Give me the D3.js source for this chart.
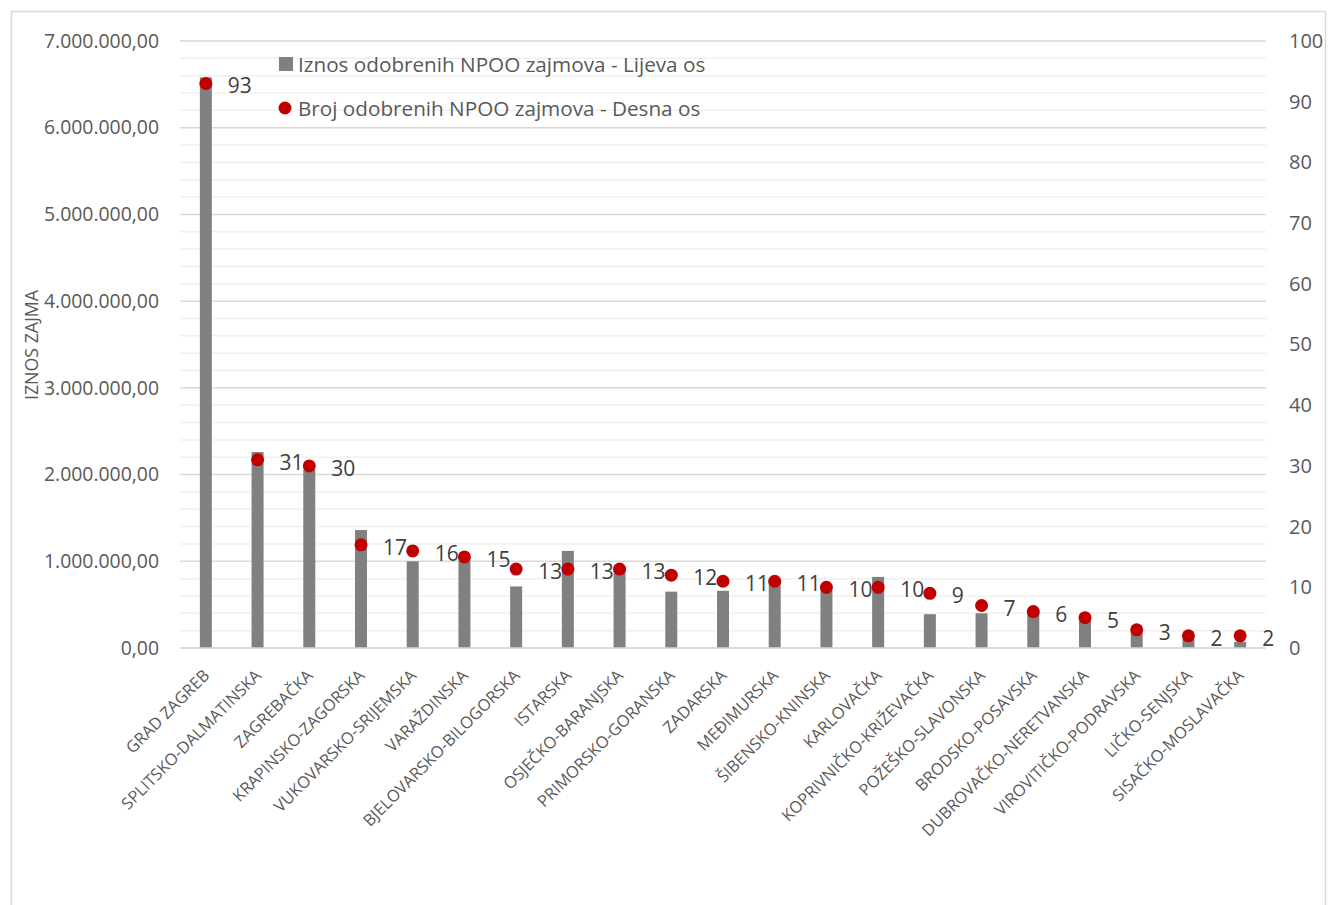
<!DOCTYPE html>
<html>
<head>
<meta charset="utf-8">
<script src="https://cdn.jsdelivr.net/npm/d3@7"></script>
<style>
  html, body { margin: 0; padding: 0; background: #ffffff; }
  svg { display: block; font-family: "Open Sans", "Noto Sans", sans-serif; }
</style>
</head>
<body>
<svg id="chart" width="1328" height="905"></svg>
<script>
const categories = [
  "GRAD ZAGREB", "SPLITSKO-DALMATINSKA", "ZAGREBAČKA", "KRAPINSKO-ZAGORSKA",
  "VUKOVARSKO-SRIJEMSKA", "VARAŽDINSKA", "BJELOVARSKO-BILOGORSKA", "ISTARSKA",
  "OSJEČKO-BARANJSKA", "PRIMORSKO-GORANSKA", "ZADARSKA", "MEĐIMURSKA",
  "ŠIBENSKO-KNINSKA", "KARLOVAČKA", "KOPRIVNIČKO-KRIŽEVAČKA", "POŽEŠKO-SLAVONSKA",
  "BRODSKO-POSAVSKA", "DUBROVAČKO-NERETVANSKA", "VIROVITIČKO-PODRAVSKA",
  "LIČKO-SENJSKA", "SISAČKO-MOSLAVAČKA"
];
const amounts = [
  6580000, 2260000, 2060000, 1360000, 1000000, 1030000, 710000, 1120000,
  920000, 650000, 660000, 760000, 670000, 820000, 390000, 400000,
  400000, 320000, 180000, 110000, 70000
];
const counts = [93, 31, 30, 17, 16, 15, 13, 13, 13, 12, 11, 11, 10, 10, 9, 7, 6, 5, 3, 2, 2];
const leftTicks = [0, 1000000, 2000000, 3000000, 4000000, 5000000, 6000000, 7000000];
const rightTicks = [0, 10, 20, 30, 40, 50, 60, 70, 80, 90, 100];
const seriesNames = ["Iznos odobrenih NPOO zajmova - Lijeva os", "Broj odobrenih NPOO zajmova - Desna os"];
const yTitle = "IZNOS ZAJMA";

const svg = d3.select("#chart");
const plot = { left: 180, right: 1266, top: 41, bottom: 648 };

const locale = d3.formatLocale({ decimal: ",", thousands: ".", grouping: [3], currency: ["", ""] });
const fmtLeft = locale.format(",.2f");

const x = d3.scaleBand().domain(categories).range([plot.left, plot.right]).padding(0);
const yL = d3.scaleLinear().domain([0, 7000000]).range([plot.bottom, plot.top]);
const yR = d3.scaleLinear().domain([0, 100]).range([plot.bottom, plot.top]);

// outer chart border
svg.append("rect").attr("x", 11.5).attr("y", 11.5).attr("width", 1314).attr("height", 910)
  .attr("fill", "none").attr("stroke", "#d9d9d9").attr("stroke-width", 1.5);

// minor gridlines
const minor = d3.range(0, 7000001, 200000).filter(v => v % 1000000 !== 0);
svg.append("g").selectAll("line").data(minor).join("line")
  .attr("x1", plot.left).attr("x2", plot.right)
  .attr("y1", d => yL(d)).attr("y2", d => yL(d))
  .attr("stroke", "#f0f0f0").attr("stroke-width", 1.5);
// major gridlines
svg.append("g").selectAll("line").data(leftTicks).join("line")
  .attr("x1", plot.left).attr("x2", plot.right)
  .attr("y1", d => yL(d)).attr("y2", d => yL(d))
  .attr("stroke", "#d9d9d9").attr("stroke-width", 1.5);

// left axis
const gL = svg.append("g").attr("transform", `translate(159,0)`)
  .call(d3.axisLeft(yL).tickValues(leftTicks).tickFormat(fmtLeft).tickSize(0).tickPadding(0));
gL.select(".domain").remove();
gL.selectAll("text").attr("fill", "#595959").style("font-size", "19.4px")
  .style("font-family", "'Open Sans', sans-serif");

// right axis
const gR = svg.append("g").attr("transform", `translate(1289,0)`)
  .call(d3.axisRight(yR).tickValues(rightTicks).tickSize(0).tickPadding(0));
gR.select(".domain").remove();
gR.selectAll("text").attr("fill", "#595959").style("font-size", "20px")
  .style("font-family", "'Open Sans', sans-serif");

// x axis
const gX = svg.append("g").attr("transform", `translate(0,672)`)
  .call(d3.axisBottom(x).tickSize(0).tickPadding(0));
gX.select(".domain").remove();
gX.selectAll("text")
  .attr("y", 0).attr("dy", null).attr("x", 0)
  .attr("dominant-baseline", "central")
  .attr("transform", "rotate(-45)")
  .style("text-anchor", "end")
  .attr("fill", "#595959").style("font-size", "16.4px")
  .style("font-family", "'Open Sans', sans-serif");

// y title
svg.append("text").attr("transform", "translate(31,345) rotate(-90)")
  .attr("text-anchor", "middle").attr("dominant-baseline", "central")
  .attr("fill", "#595959").style("font-size", "17.8px").text(yTitle);

// bars
const barW = 12;
svg.append("g").selectAll("rect").data(categories).join("rect")
  .attr("x", (d) => x(d) + x.bandwidth() / 2 - barW / 2)
  .attr("width", barW)
  .attr("y", (d, i) => yL(amounts[i]))
  .attr("height", (d, i) => yL(0) - yL(amounts[i]))
  .attr("fill", "#808080");

// axis baseline on top
svg.append("line").attr("x1", plot.left).attr("x2", plot.right)
  .attr("y1", yL(0)).attr("y2", yL(0)).attr("stroke", "#d9d9d9").attr("stroke-width", 1.5);

// dots
svg.append("g").selectAll("circle").data(categories).join("circle")
  .attr("cx", d => x(d) + x.bandwidth() / 2)
  .attr("cy", (d, i) => yR(counts[i]))
  .attr("r", 6.5).attr("fill", "#c00000");

// data labels
svg.append("g").selectAll("text").data(categories).join("text")
  .attr("x", d => x(d) + x.bandwidth() / 2 + 22)
  .attr("y", (d, i) => yR(counts[i]) + 2)
  .attr("dominant-baseline", "central")
  .attr("fill", "#404040").style("font-size", "21px")
  .text((d, i) => counts[i]);

// legend
const lg = svg.append("g");
lg.append("rect").attr("x", 279).attr("y", 57).attr("width", 14).attr("height", 14).attr("fill", "#808080");
lg.append("text").attr("x", 298).attr("y", 64).attr("dominant-baseline", "central")
  .attr("fill", "#595959").style("font-size", "20.7px").text(seriesNames[0]);
lg.append("circle").attr("cx", 285).attr("cy", 108).attr("r", 6.5).attr("fill", "#c00000");
lg.append("text").attr("x", 298).attr("y", 108).attr("dominant-baseline", "central")
  .attr("fill", "#595959").style("font-size", "20.7px").text(seriesNames[1]);
</script>
</body>
</html>
